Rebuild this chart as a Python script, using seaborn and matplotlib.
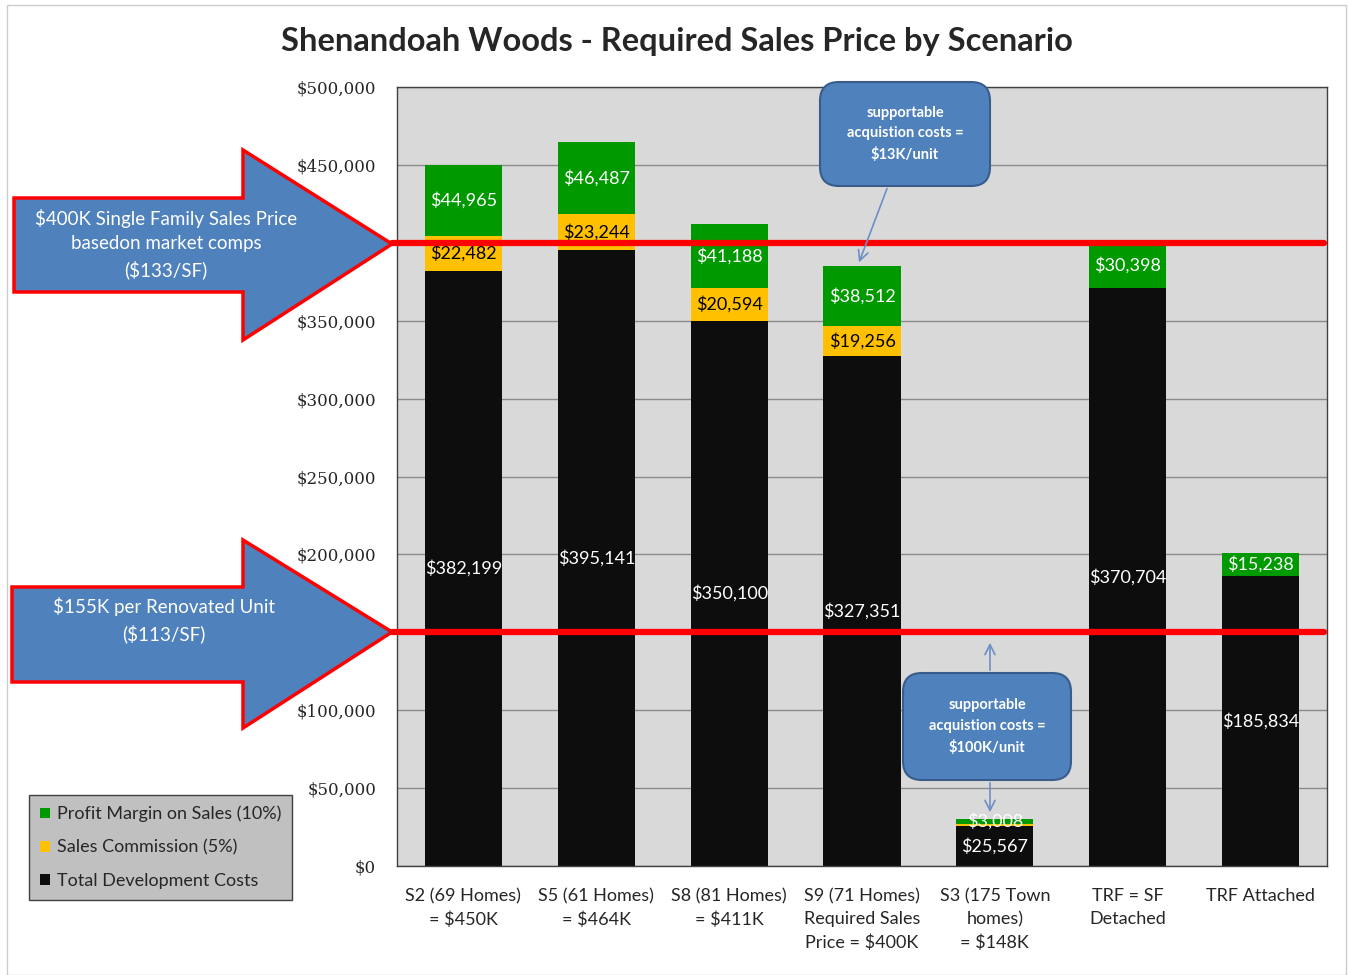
import pandas as pd
import numpy as np
import matplotlib
matplotlib.use('Agg')
import matplotlib.pyplot as plt
import seaborn as sns
from matplotlib.patches import Polygon, FancyBboxPatch, Rectangle
from matplotlib.ticker import FuncFormatter, MultipleLocator

# 数据
scenarios = ['S2 (69 Homes)\n= $450K', 'S5 (61 Homes)\n= $464K', 'S8 (81 Homes)\n= $411K',
             'S9 (71 Homes)\nRequired Sales\nPrice = $400K', 'S3 (175 Town\nhomes)\n= $148K',
             'TRF = SF\nDetached', 'TRF Attached']
dev_costs = [382199, 395141, 350100, 327351, 25567, 370704, 185834]
commission = [22482, 23244, 20594, 19256, 1504, 0, 0]
profit = [44965, 46487, 41188, 38512, 3008, 30398, 15238]
series_names = ['Profit Margin on Sales (10%)', 'Sales Commission (5%)', 'Total Development Costs']
upper_line = 400000
lower_line = 150000

GREEN = '#009A00'
GOLD = '#FFC000'
BLACK = '#0D0D0D'
BLUE = '#4F81BD'
W, H = 1349, 975

sns.set_style('white')
plt.rcParams['font.family'] = ['Lato', 'DejaVu Sans']

df = pd.DataFrame({'scenario': scenarios, 'dev': dev_costs, 'comm': commission, 'profit': profit})
df['dev_comm'] = df['dev'] + df['comm']
df['total'] = df['dev_comm'] + df['profit']

fig = plt.figure(figsize=(W / 100, H / 100), dpi=100)
ax = fig.add_axes([397 / W, 1 - 866 / H, 930 / W, 779 / H])
ax.set_facecolor('#D9D9D9')
ax.set_axisbelow(True)
ax.yaxis.grid(True, color='#8C8C8C', lw=1)

bw = 0.58
sns.barplot(data=df, x='scenario', y='total', color=GREEN, saturation=1, width=bw, ax=ax,
            label=series_names[0], edgecolor='none')
sns.barplot(data=df, x='scenario', y='dev_comm', color=GOLD, saturation=1, width=bw, ax=ax,
            label=series_names[1], edgecolor='none')
sns.barplot(data=df, x='scenario', y='dev', color=BLACK, saturation=1, width=bw, ax=ax,
            label=series_names[2], edgecolor='none')

# 数据标签
lab_font = dict(fontsize=13, ha='center', va='center')
for i, r in df.iterrows():
    ax.text(i, r['dev'] / 2, f"${r['dev']:,.0f}", color='white', **lab_font)
    if r['comm'] > 5000:
        ax.text(i, r['dev'] + r['comm'] / 2, f"${r['comm']:,.0f}", color='black', **lab_font)
    ax.text(i, r['dev_comm'] + r['profit'] / 2, f"${r['profit']:,.0f}", color='white', **lab_font)

ax.set_xlim(-0.5, 6.5)
ax.set_ylim(0, 500000)
ax.yaxis.set_major_locator(MultipleLocator(50000))
ax.yaxis.set_major_formatter(FuncFormatter(lambda v, p: f'${v:,.0f}'))
ax.set_xlabel('')
ax.set_ylabel('')
ax.tick_params(axis='y', length=0, pad=15)
ax.tick_params(axis='x', length=0, pad=16)
for t in ax.get_yticklabels():
    t.set_family(['DejaVu Serif'])
    t.set_fontsize(12)
for t in ax.get_xticklabels():
    t.set_fontsize(13)
    t.set_linespacing(1.52)
for s in ax.spines.values():
    s.set_color('#404040')
    s.set_linewidth(1)

# 红线
for yv in (upper_line, lower_line):
    ax.plot([-0.54, 6.48], [yv, yv], color='#FF0000', lw=4.5, clip_on=False, zorder=5)

fig.text(677 / W, 1 - 42 / H, 'Shenandoah Woods - Required Sales Price by Scenario',
         ha='center', va='center', fontsize=23.5, fontweight='bold')


def fp(x, y):
    return (x / W, 1 - y / H)


def block_arrow(x0, xh, xt, yb0, yb1, yh0, yh1, yt):
    pts = [fp(x0, yb0), fp(xh, yb0), fp(xh, yh0), fp(xt, yt), fp(xh, yh1), fp(xh, yb1), fp(x0, yb1)]
    fig.patches.append(Polygon(pts, closed=True, transform=fig.transFigure,
                               facecolor=BLUE, edgecolor='#FF0000', lw=2.5, zorder=6))


block_arrow(14, 243, 392, 198, 292, 150, 340, 244)
block_arrow(12, 243, 392, 587, 682, 540, 728, 632)
fig.text(*fp(166, 244), '$400K Single Family Sales Price\nbasedon market comps\n($133/SF)',
         ha='center', va='center', color='white', fontsize=13.5, linespacing=1.5, zorder=7)
fig.text(*fp(164, 620), '$155K per Renovated Unit\n($113/SF)',
         ha='center', va='center', color='white', fontsize=13.5, linespacing=1.5, zorder=7)


def callout(x0, y0, x1, y1, text):
    (fx0, fy1), (fx1, fy0) = fp(x0, y0), fp(x1, y1)
    fig.patches.append(FancyBboxPatch((fx0, fy0), fx1 - fx0, fy1 - fy0,
                                      boxstyle='round,pad=0,rounding_size=0.014',
                                      transform=fig.transFigure, facecolor=BLUE,
                                      edgecolor='#385D8A', lw=1.5, zorder=6,
                                      mutation_aspect=W / H))
    fig.text((fx0 + fx1) / 2, (fy0 + fy1) / 2, text, ha='center', va='center', color='white',
             fontsize=10.5, fontweight='bold', linespacing=1.6, zorder=7)


def pointer(x0, y0, x1, y1):
    ax.annotate('', xy=(x1, H - y1), xytext=(x0, H - y0), xycoords='figure pixels',
                textcoords='figure pixels',
                arrowprops=dict(arrowstyle='->', color='#6D8FC7', lw=1.2, mutation_scale=18),
                zorder=6)


callout(820, 82, 990, 186, 'supportable\nacquistion costs =\n$13K/unit')
pointer(888, 186, 858, 265)
callout(903, 673, 1071, 780, 'supportable\nacquistion costs =\n$100K/unit')
pointer(990, 673, 990, 640)
pointer(990, 780, 990, 815)

# 图例
handles = [ax.containers[0], ax.containers[1], ax.containers[2]]
leg = ax.legend(handles=handles, labels=series_names, loc='upper left',
                bbox_to_anchor=fp(29, 795), bbox_transform=fig.transFigure, borderaxespad=0,
                fontsize=13, handlelength=0.55, handleheight=0.55, handletextpad=0.4,
                labelspacing=0.95, fancybox=False, frameon=True, borderpad=0.6)
leg.get_frame().set_facecolor('#C0C0C0')
leg.get_frame().set_edgecolor('#404040')
leg.get_frame().set_alpha(1)

fig.patches.append(Rectangle((7 / W, 0), 1339 / W, 1 - 5 / H, transform=fig.transFigure,
                             fill=False, edgecolor='#CCCCCC', lw=1))

fig.savefig('out.png', dpi=100)
